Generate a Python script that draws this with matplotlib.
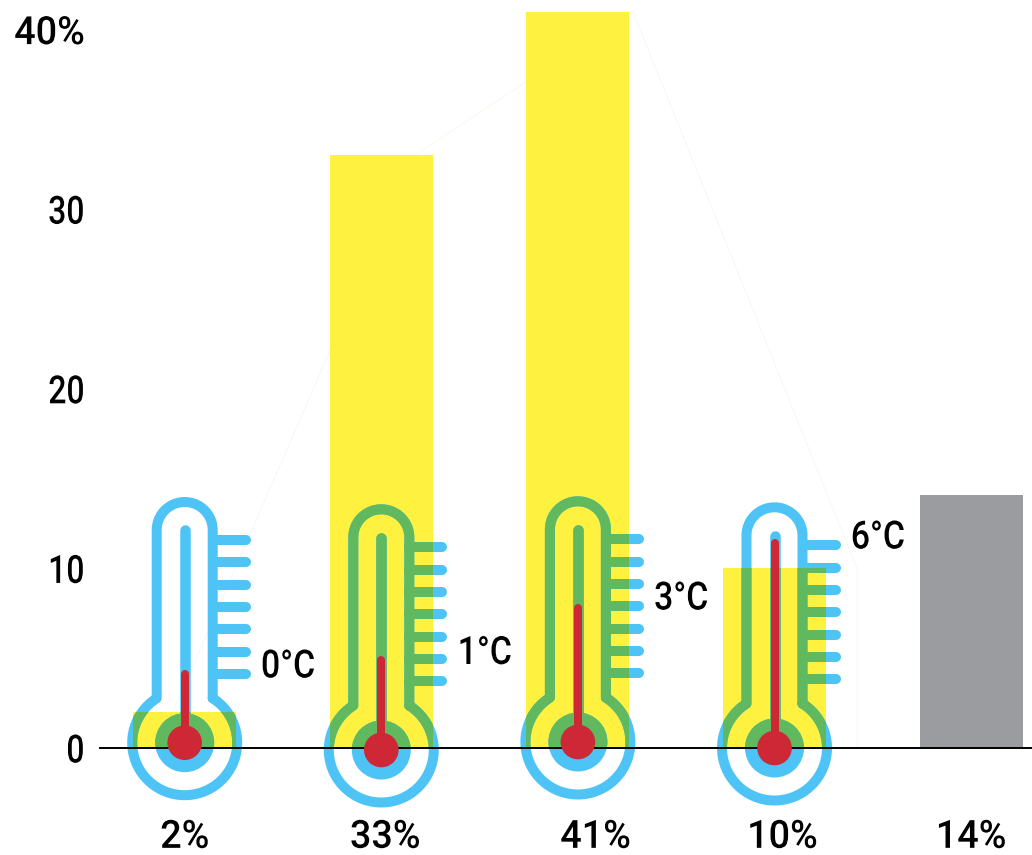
import numpy as np
import matplotlib
matplotlib.use('Agg')
from matplotlib import pyplot as plt
from matplotlib.lines import Line2D
from matplotlib.patches import Circle
from matplotlib.patheffects import AbstractPathEffect
from matplotlib.transforms import Affine2D

plt.rcParams['font.family'] = ['Roboto', 'Liberation Sans', 'DejaVu Sans']
plt.rcParams['font.weight'] = 'medium'

W, H = 1032, 855

# bars
shares = [2, 33, 41, 10, 14.1]
share_labels = ['2%', '33%', '41%', '10%', '14%']
label_pos = [0.0, 1.02, 2.09, 3.04, 4.0]
yticks = [0, 10, 20, 30, 40]
ytick_labels = ['0', '10', '20', '30', '40%']

# thermometers
temps = ['0°C', '1°C', '3°C', '6°C']
bulb_y = [742.7, 750, 742, 748]
mercury = [73, 94, 138, 209]
temp_label_y = [667, 653.5, 599, 538]

# faint outline behind the bars
ghost_x = [-0.06, 1.17, 2.28, 3.42, 3.42]
ghost_y = [2, 33, 41, 10, 0]

YELLOW = '#FFF13F'
BLUE = '#4DC4F5'
GREEN = '#60B85F'
RED = '#CE2735'
GRAY = '#9A9C9F'


# no condensed font here, so squeeze the glyphs sideways at draw time
class Condense(AbstractPathEffect):
    def __init__(self, sx, anchor='center'):
        super().__init__()
        self.sx = sx
        self.anchor = anchor

    def draw_path(self, renderer, gc, tpath, affine, rgbFace=None):
        box = tpath.get_extents()
        p = {'left': box.x0, 'right': box.x1, 'center': (box.x0 + box.x1) / 2}[self.anchor]
        squeeze = Affine2D().translate(-p, 0).scale(self.sx, 1).translate(p, 0)
        renderer.draw_path(gc, tpath.transformed(squeeze), affine, rgbFace)


fig = plt.figure(figsize=(W / 100, H / 100), dpi=100)
ax = fig.add_axes([100 / W, (H - 748) / H, (W - 100) / W, 748 / H])
ax.set_xlim((100 - 184.7) / 196.6, (W - 184.7) / 196.6)
ax.set_ylim(0, 748 / 17.96)

bars = ax.bar(range(5), shares, width=0.524, color=[YELLOW] * 4 + [GRAY], zorder=1)
ax.plot(ghost_x, ghost_y, color='#F8F8F0', lw=0.7, zorder=0.5, clip_on=False)

for s in ['top', 'left', 'right']:
    ax.spines[s].set_visible(False)
ax.spines['bottom'].set_linewidth(1.4)
ax.spines['bottom'].set_zorder(4)

ax.set_yticks(yticks)
ax.set_yticklabels(ytick_labels)
ax.set_xticks(label_pos)
ax.set_xticklabels(share_labels)
ax.tick_params(axis='y', length=0, pad=11, labelsize=28)
ax.tick_params(axis='x', length=0, pad=51, labelsize=28)
for lab in ax.get_yticklabels():
    sx = 0.97 if '%' in lab.get_text() else 0.82
    lab.set_path_effects([Condense(sx, 'right')])
for lab in ax.get_xticklabels():
    lab.set_path_effects([Condense(0.97)])


def px(v):
    return v * 0.72


def outline():
    # body of the thermometer, pixels around the bulb centre, y going down
    r = 52.5
    a = np.arcsin(28 / r)
    t = np.linspace(np.pi / 2 - a, -3 * np.pi / 2 + a, 80)
    bx = r * np.cos(t)
    by = -r * np.sin(t)
    t2 = np.linspace(np.pi, 0, 40)
    tx = 28 * np.cos(t2)
    ty = -212.7 - 28 * np.sin(t2)
    return np.r_[bx, tx, bx[0]], np.r_[by, ty, by[0]]


def draw_parts(tr, color, clip=None):
    parts = []
    x, y = outline()
    parts.append(Line2D(x, y, lw=px(10), solid_joinstyle='round', solid_capstyle='round'))
    parts.append(Line2D([0, 0], [0, -212.5], lw=px(10.5), solid_capstyle='round'))
    for i in range(7):
        yy = -202.7 + 22.33 * i
        parts.append(Line2D([28, 61], [yy, yy], lw=px(10), solid_capstyle='round'))
    for p in parts:
        p.set_color(color)
    parts.append(Circle((0, 0), 29.5, fc=color, ec='none'))
    for p in parts:
        p.set_transform(tr)
        p.set_zorder(2 if clip is None else 3)
        ax.add_artist(p)
        if clip is None:
            p.set_clip_on(False)
        else:
            p.set_clip_path(clip)


for i, t in enumerate(temps):
    cx = ax.transData.transform((i, 0))[0]
    cy = bulb_y[i]
    tr = Affine2D().scale(1, -1).translate(cx, H - cy)
    draw_parts(tr, BLUE)
    draw_parts(tr, GREEN, clip=bars[i])
    red = Line2D([0, 0], [0, -(mercury[i] - 4)], lw=px(8), color=RED, solid_capstyle='round',
                 transform=tr, zorder=5, clip_on=False)
    ax.add_artist(red)
    ax.add_artist(Circle((0, 0), 17.3, fc=RED, ec='none', transform=tr, zorder=5, clip_on=False))
    txt = ax.text(cx + 76, H - temp_label_y[i], t, transform=Affine2D(), fontsize=28,
                  ha='left', va='center', color='black', zorder=6)
    txt.set_path_effects([Condense(0.87, 'left')])

fig.savefig('out.png', dpi=100)
